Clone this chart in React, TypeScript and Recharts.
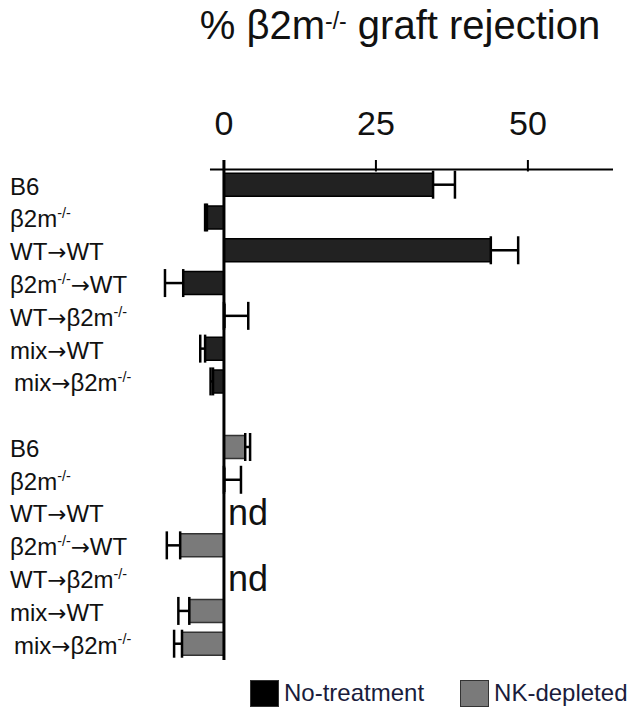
import React from "react";
import {
  BarChart,
  Bar,
  XAxis,
  YAxis,
  Cell,
  ErrorBar,
  ReferenceLine,
  ReferenceDot,
  Legend,
} from "recharts";

const categories = [
  "B6",
  "β2m-/-",
  "WT→WT",
  "β2m-/-→WT",
  "WT→β2m-/-",
  "mix→WT",
  "mix→β2m-/-",
];
const noTreatment = [34.4, -2.8, 43.9, -6.7, 0, -3.1, -1.8];
const noTreatmentErr = [3.6, 0.3, 4.5, 3.0, 4.0, 0.8, 0.4];
const nkDepleted: (number | null)[] = [3.5, 0, null, -7.2, null, -5.7, -6.9];
const nkDepletedErr: (number | null)[] = [0.8, 2.8, null, 2.2, null, 1.8, 1.3];
const xTicks = [0, 25, 50];

const groupOffset = 8; // one empty row between the two groups
const colors = { none: "#222222", nk: "#7a7a7a" };
const font = '"Liberation Sans", Arial, Helvetica, sans-serif';

// one-sided error, pointing away from zero
const errPair = (v: number, e: number) => (v < 0 ? [e, 0] : [0, e]);

const rows = [
  ...categories.map((c, i) => ({
    pos: i,
    label: c,
    group: "none",
    value: noTreatment[i],
    err: errPair(noTreatment[i], noTreatmentErr[i]),
  })),
  ...categories.map((c, i) => ({
    pos: i + groupOffset,
    label: c,
    group: "nk",
    value: nkDepleted[i],
    err: nkDepleted[i] == null ? null : errPair(nkDepleted[i] as number, nkDepletedErr[i] as number),
  })),
];

const ndRows = rows.filter((r) => r.value == null);

// label text: "-/-" is a superscript, "→" comes from DejaVu (wider arrow)
function renderLabel(text: string, size: number) {
  const tokens = text.split(/(-\/-|→)/).filter((t) => t !== "");
  let raised = false;
  return tokens.map((t, i) => {
    if (t === "-/-") {
      raised = true;
      return (
        <tspan key={i} fontSize={size * 0.6} dy={-size * 0.38}>
          -/-
        </tspan>
      );
    }
    const dy = raised ? size * 0.38 : 0;
    raised = false;
    if (t === "→") {
      return (
        <tspan key={i} dy={dy} fontFamily='"DejaVu Sans", sans-serif' fontSize={size * 0.95}>
          →
        </tspan>
      );
    }
    return (
      <tspan key={i} dy={dy}>
        {t}
      </tspan>
    );
  });
}

const YTick = ({ y, payload }: any) => {
  const row = rows.find((r) => r.pos === payload.value);
  if (!row) return null;
  const indent = row.label.startsWith("mix→β") ? 4 : 0;
  return (
    <text x={10 + indent} y={y + 10} fontSize={24} fill="#111" fontFamily={font} textAnchor="start">
      {renderLabel(row.label, 24)}
    </text>
  );
};

const XTick = ({ x, y, payload }: any) => (
  <text x={x} y={y - 17} fontSize={34} fill="#111" fontFamily={font} textAnchor="middle">
    {payload.value}
  </text>
);

const LegendContent = () => (
  <div style={{ display: "flex", alignItems: "center", fontFamily: font, fontSize: 24, color: "#1a1c3c" }}>
    <span style={{ width: 27, height: 25, background: "#000", border: "1px solid #333", marginRight: 5 }} />
    <span style={{ marginRight: 36 }}>No-treatment</span>
    <span style={{ width: 27, height: 25, background: colors.nk, border: "1.5px solid #333", marginRight: 5 }} />
    <span>NK-depleted</span>
  </div>
);

export default function App() {
  return (
    <div style={{ position: "absolute", left: 0, top: 0, width: 627, height: 709, background: "#fff" }}>
      <div
        style={{
          position: "absolute",
          left: 150,
          width: 500,
          top: 5,
          textAlign: "center",
          fontFamily: font,
          fontSize: 40,
          lineHeight: "40px",
          color: "#111",
        }}
      >
        % β2m<sup style={{ fontSize: 23, verticalAlign: "top", position: "relative", top: -4 }}>-/-</sup> graft rejection
      </div>
      <BarChart
        width={627}
        height={709}
        data={rows}
        layout="vertical"
        margin={{ top: 120, right: 14, left: 1, bottom: 21 }}
      >
        <XAxis
          type="number"
          orientation="top"
          domain={[-12, 64]}
          allowDataOverflow
          ticks={xTicks}
          axisLine={false}
          tickLine={false}
          height={40}
          tick={<XTick />}
        />
        <YAxis
          type="number"
          dataKey="pos"
          domain={[-0.75, 14.5]}
          allowDataOverflow
          ticks={rows.map((r) => r.pos)}
          interval={0}
          axisLine={false}
          tickLine={false}
          width={150}
          tick={<YTick />}
        />
        <Legend
          verticalAlign="bottom"
          content={<LegendContent />}
          wrapperStyle={{ position: "absolute", left: 250, top: 679, width: 380, bottom: "auto" }}
        />
        <Bar dataKey="value" barSize={23} minPointSize={1} isAnimationActive={false} strokeWidth={1.5}>
          {rows.map((r, i) => (
            <Cell
              key={`c${i}`}
              fill={r.group === "none" ? colors.none : colors.nk}
              stroke={r.group === "none" ? "#000" : "#333"}
            />
          ))}
          <ErrorBar dataKey="err" direction="x" width={14} stroke="#000" strokeWidth={2.5} isAnimationActive={false} />
        </Bar>
        <ReferenceLine
          segment={[
            { x: -2.3, y: -0.46 },
            { x: 64, y: -0.46 },
          ]}
          stroke="#000"
          strokeWidth={2}
          ifOverflow="visible"
        />
        {xTicks.map((t) => (
          <ReferenceLine
            key={`t${t}`}
            segment={[
              { x: t, y: -0.75 },
              { x: t, y: -0.4 },
            ]}
            stroke="#000"
            strokeWidth={2}
            ifOverflow="visible"
          />
        ))}
        <ReferenceLine x={0} stroke="#000" strokeWidth={3} />
        {ndRows.map((r) => (
          <ReferenceDot
            key={`nd${r.pos}`}
            x={0}
            y={r.pos}
            r={0}
            fill="none"
            stroke="none"
            label={{ value: "nd", position: "right", offset: 4, fontSize: 36, fill: "#111", fontFamily: font }}
          />
        ))}
      </BarChart>
    </div>
  );
}
